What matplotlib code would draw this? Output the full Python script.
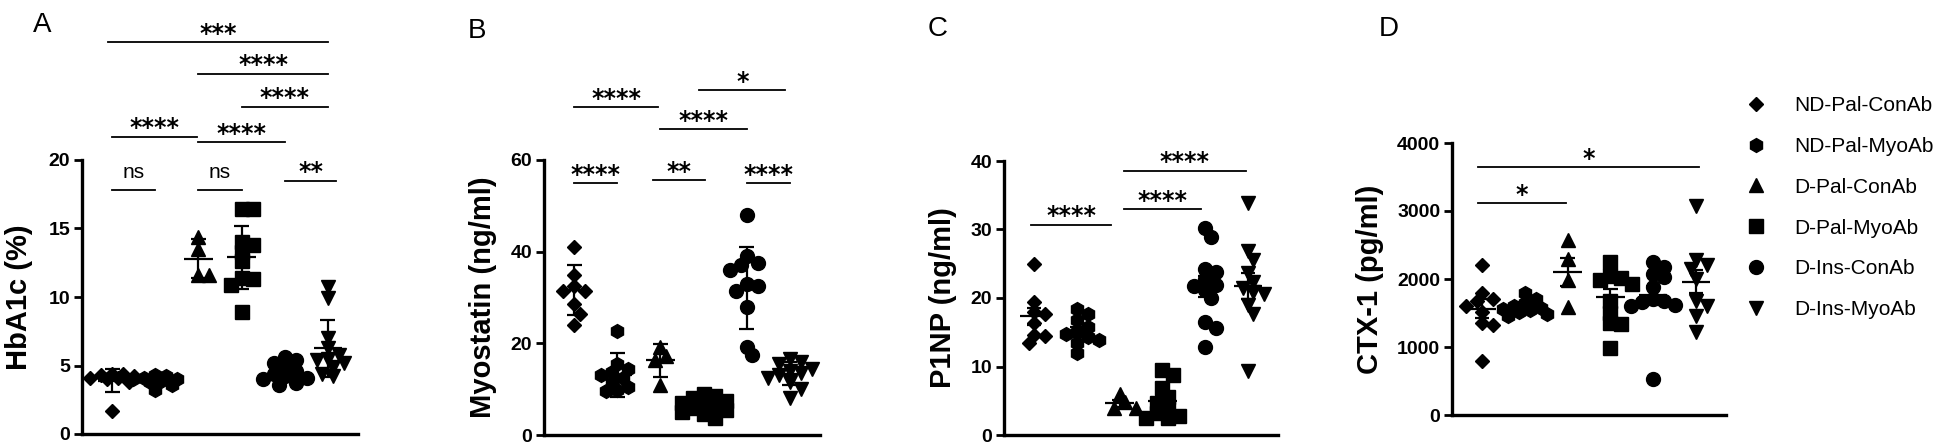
import numpy as np
import matplotlib.pyplot as plt

plt.rcParams['font.family'] = ['Liberation Sans', 'DejaVu Sans']

groups = ['ND-Pal-ConAb', 'ND-Pal-MyoAb', 'D-Pal-ConAb', 'D-Pal-MyoAb', 'D-Ins-ConAb', 'D-Ins-MyoAb']
markers = ['D', 'h', '^', 's', 'o', 'v']
msizes = [7.5, 10, 10.5, 9.5, 10, 10.5]

# --- A: HbA1c (%)
hba1c = [
    [1.7, 3.8, 4.0, 4.1, 4.2, 4.3, 4.4, 4.4, 4.1],
    [3.2, 3.6, 3.8, 3.9, 4.0, 4.1, 4.2, 4.3, 4.0],
    [14.4, 13.5, 11.6, 11.6],
    [16.4, 16.4, 14.0, 13.8, 13.3, 12.6, 11.4, 11.3, 10.9, 8.9],
    [5.6, 5.4, 5.2, 4.9, 4.6, 4.4, 4.2, 4.1, 4.0, 3.7, 3.6],
    [10.7, 9.9, 7.0, 6.3, 5.8, 5.5, 5.4, 5.2, 4.9, 4.4, 4.2],
]
hba1c_mean = [3.9, 3.9, 12.8, 12.9, 4.55, 6.25]
hba1c_err = [0.85, 0.35, 1.4, 2.3, 0.5, 2.1]
sig_a_pairs = [(0, 1), (2, 3), (4, 5.2), (0, 1.97), (2, 4), (3, 5), (2, 5), (-0.1, 5)]
sig_a_y = [17.8, 17.8, 18.5, 21.7, 21.3, 23.9, 26.3, 28.6]
sig_a_text = ['ns', 'ns', '**', '****', '****', '****', '****', '***']

# --- B: Myostatin (ng/ml)
myostatin = [
    [41, 35, 32.5, 31.5, 31.5, 28.5, 26.5, 24],
    [22.7, 15.5, 14.5, 13.8, 13.2, 12.5, 11.5, 10.5, 9.8, 9.5],
    [19.3, 17.3, 16.3, 11.0],
    [9.0, 8.5, 8.0, 7.5, 7.0, 6.8, 6.5, 6.0, 5.5, 5.0, 4.5, 3.8],
    [48, 39, 37.5, 37, 36, 33, 32.5, 31.5, 28, 19.2, 17.5],
    [16.5, 16, 15.5, 14.5, 14, 13.5, 13, 12.5, 11.5, 10, 8],
]
myostatin_mean = [31.6, 13.1, 16.3, 6.9, 32.1, 13.4]
myostatin_err = [5.5, 4.8, 3.6, 1.5, 9.0, 2.5]
sig_b_pairs = [(0, 1), (1.83, 3.03), (4, 5), (0, 1.95), (2, 4), (2.9, 4.9)]
sig_b_y = [55, 55.6, 55, 71.5, 66.8, 75.3]
sig_b_text = ['****', '**', '****', '****', '****', '*']

# --- C: P1NP (ng/ml)
p1np = [
    [25, 19.4, 17.9, 17.6, 16.3, 14.6, 14.5, 13.4],
    [18.4, 17.6, 16.8, 15.8, 15, 14.7, 14.3, 13.8, 13.5, 11.9],
    [6.0, 4.8, 3.9, 3.9],
    [9.5, 8.8, 6.8, 5.5, 4.6, 3.8, 3.2, 2.8, 2.5, 2.5],
    [30.2, 28.9, 24.3, 23.8, 22.8, 21.9, 21.8, 21.2, 20, 16.5, 15.6, 12.9],
    [33.8, 26.8, 25.5, 23.6, 22.4, 21.5, 20.9, 20.6, 19, 17.7, 9.3],
]
p1np_mean = [17.3, 15.0, 4.6, 4.9, 21.7, 21.8]
p1np_err = [1.3, 0.7, 0.5, 0.8, 1.5, 1.9]
sig_c_pairs = [(-0.07, 1.8), (2.1, 3.9), (2.1, 4.95)]
sig_c_y = [30.7, 33, 38.6]
sig_c_text = ['****', '****', '****']

# --- D: CTX-1 (pg/ml)
ctx1 = [
    [2200, 1800, 1700, 1680, 1600, 1520, 1350, 1330, 790],
    [1800, 1700, 1650, 1600, 1580, 1560, 1550, 1520, 1480, 1460],
    [2570, 2300, 1980, 1590],
    [2250, 2050, 2020, 1980, 1920, 1680, 1500, 1360, 1340, 980],
    [2250, 2180, 2080, 2030, 1880, 1700, 1680, 1660, 1620, 1600, 530],
    [3080, 2280, 2200, 2150, 2000, 1680, 1600, 1450, 1220],
]
ctx1_mean = [1560, 1615, 2105, 1737, 1762, 1958]
ctx1_err = [140, 50, 210, 120, 140, 170]
sig_d_pairs = [(-0.1, 1.97), (-0.1, 5.07)]
sig_d_y = [3118, 3647]
sig_d_text = ['*', '*']

W, H = 1949, 446
fig = plt.figure(figsize=(W / 100, H / 100), dpi=100)


def swarm(vals, px_per_y, px_per_x=43.2, diam=11.0, spread=22.0):
    # deterministic beeswarm, limited width; overlaps allowed when crowded
    vals = np.asarray(vals, float)
    order = np.argsort(vals)[::-1]
    cands = [0.0]
    step = diam * 0.5
    k = 1
    while k * step <= spread:
        cands += [k * step, -k * step]
        k += 1
    placed = []
    offs = np.zeros(len(vals))
    for i in order:
        y = vals[i] * px_per_y
        best, best_d = 0.0, -1.0
        for c in cands:
            d = min([np.hypot(c - px, y - py) for px, py in placed] or [1e9])
            if d >= 0.85 * diam:
                best = c
                break
            if d > best_d:
                best, best_d = c, d
        placed.append((best, y))
        offs[i] = best / px_per_x
    return offs


def panel(box, data, mean, err, ymax, yticks, ylabel, letter, letter_xy,
          pairs, ys, texts, label_x):
    l, r, t, b = box
    ax = fig.add_axes([l / W, 1 - b / H, (r - l) / W, (b - t) / H])
    ax.set_xlim(-0.7, 5.7)
    ax.set_ylim(0, ymax)
    px_per_y = (b - t) / ymax
    for i, vals in enumerate(data):
        xs = i + swarm(vals, px_per_y)
        ax.plot(xs, vals, linestyle='none', marker=markers[i], ms=msizes[i],
                color='black', clip_on=False, zorder=3)
        ax.hlines(mean[i], i - 0.33, i + 0.33, color='black', lw=1.6, zorder=4)
        ax.vlines(i, mean[i] - err[i], mean[i] + err[i], color='black', lw=1.6, zorder=4)
        ax.hlines([mean[i] - err[i], mean[i] + err[i]], i - 0.17, i + 0.17,
                  color='black', lw=1.6, zorder=4)
    for (x1, x2), y, s in zip(pairs, ys, texts):
        ax.plot([x1, x2], [y, y], color='black', lw=1.3, clip_on=False)
        if s == 'ns':
            ax.annotate(s, ((x1 + x2) / 2, y), xytext=(0, 13), textcoords='offset points',
                        ha='center', va='center', fontsize=15, annotation_clip=False)
        else:
            ax.annotate(s, ((x1 + x2) / 2, y), xytext=(0, 6), textcoords='offset points',
                        ha='center', va='center', fontsize=17, fontweight='bold',
                        family='DejaVu Sans', annotation_clip=False)
    for side in ['top', 'right']:
        ax.spines[side].set_visible(False)
    for side in ['left', 'bottom']:
        ax.spines[side].set_linewidth(2.4)
    ax.set_xticks([])
    ax.set_yticks(yticks)
    ax.tick_params(axis='y', length=5.5, width=2.0, labelsize=14, pad=3)
    for lab in ax.get_yticklabels():
        lab.set_fontweight('bold')
    ax.set_ylabel(ylabel, fontsize=21, fontweight='bold')
    ax.yaxis.set_label_coords(label_x, 0.5)
    fig.text(letter_xy[0] / W, 1 - letter_xy[1] / H, letter, fontsize=20,
             ha='center', va='center')
    return ax


panel((82, 358, 160, 434), hba1c, hba1c_mean, hba1c_err, 20, [0, 5, 10, 15, 20],
      'HbA1c (%)', 'A', (42, 25), sig_a_pairs, sig_a_y, sig_a_text, -0.178)
panel((544, 820, 160, 435), myostatin, myostatin_mean, myostatin_err, 60, [0, 20, 40, 60],
      'Myostatin (ng/ml)', 'B', (477, 31), sig_b_pairs, sig_b_y, sig_b_text, -0.17)
panel((1004, 1278, 161, 435), p1np, p1np_mean, p1np_err, 40, [0, 10, 20, 30, 40],
      'P1NP (ng/ml)', 'C', (938, 29), sig_c_pairs, sig_c_y, sig_c_text, -0.171)
panel((1452, 1726, 143, 415), ctx1, ctx1_mean, ctx1_err, 4000, [0, 1000, 2000, 3000, 4000],
      'CTX-1 (pg/ml)', 'D', (1389, 29), sig_d_pairs, sig_d_y, sig_d_text, -0.25)

handles = [plt.Line2D([], [], linestyle='none', marker=m, ms=s, color='black')
           for m, s in zip(markers, msizes)]
fig.legend(handles, groups, loc='upper left', bbox_to_anchor=(1746 / W, 1 - 96 / H),
           frameon=False, fontsize=15, handlelength=1.0, handletextpad=1.3,
           labelspacing=1.05, borderpad=0, borderaxespad=0)

fig.savefig('out.png', dpi=100)
